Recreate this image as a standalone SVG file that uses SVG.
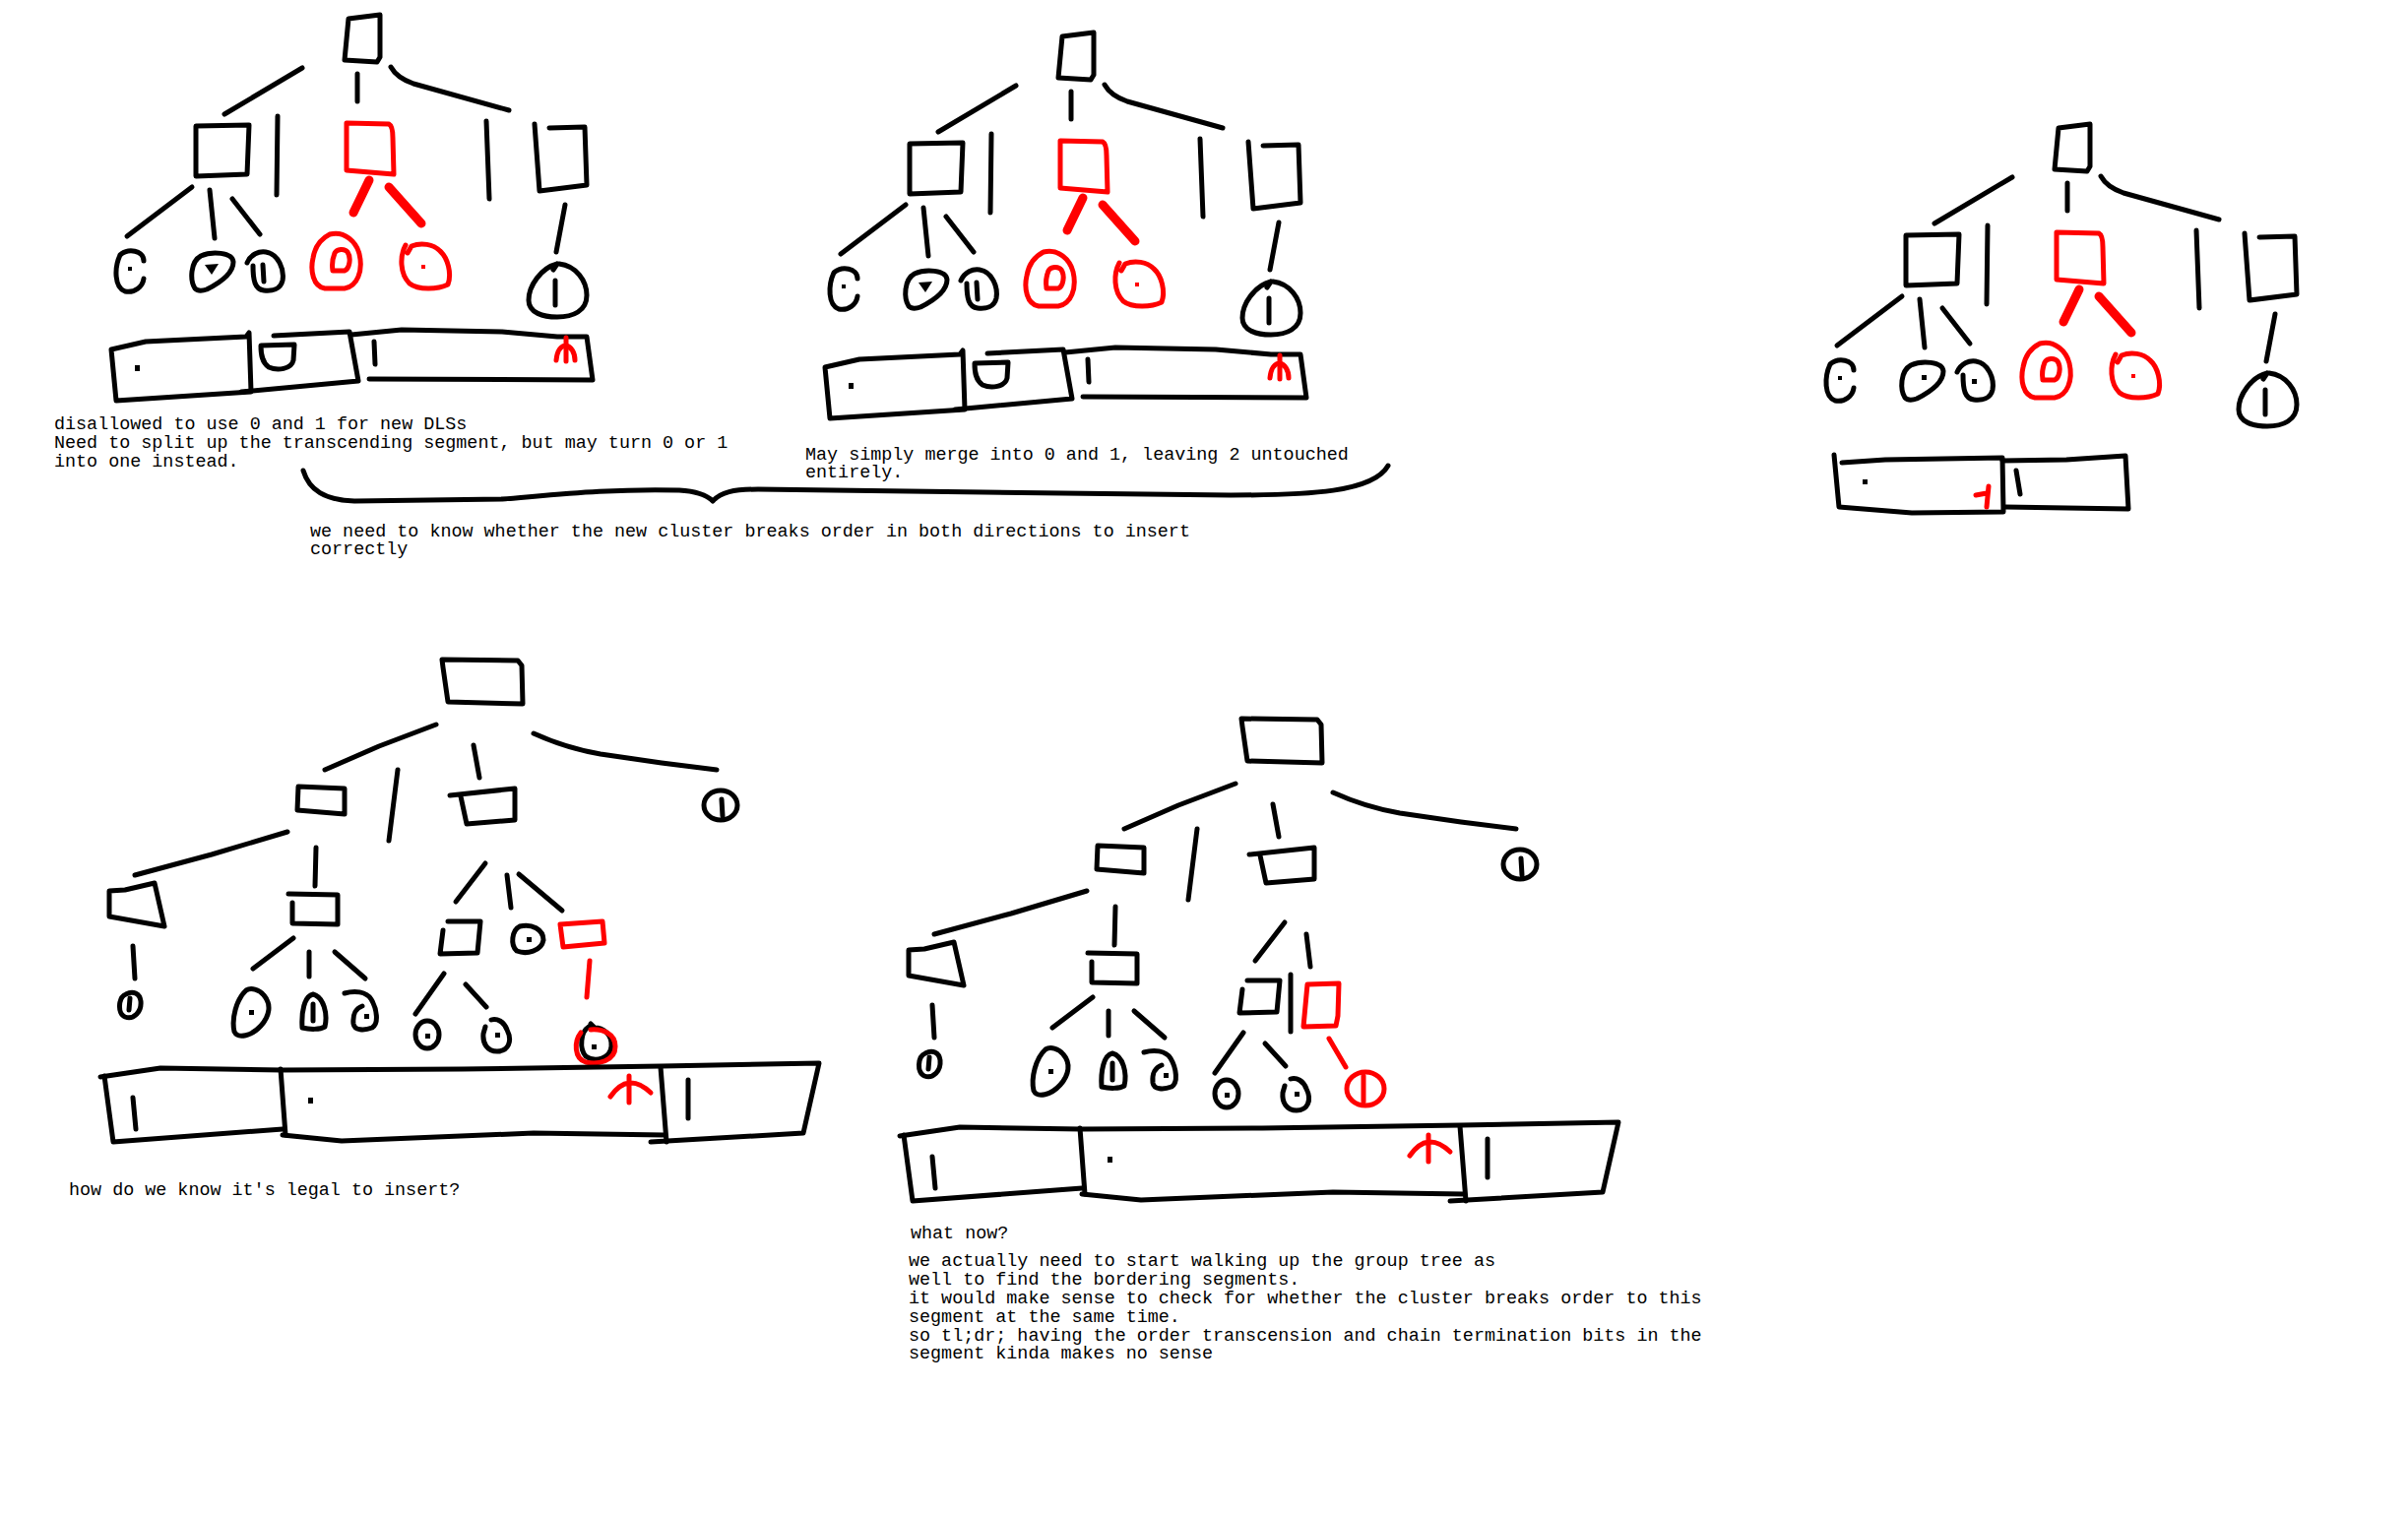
<svg xmlns="http://www.w3.org/2000/svg" width="2446" height="1539" viewBox="0 0 2446 1539">
<style>
.k{fill:none;stroke:#000;stroke-width:5;stroke-linecap:round;stroke-linejoin:round}
.r{fill:none;stroke:#f00;stroke-width:5;stroke-linecap:round;stroke-linejoin:round}
.rt{fill:none;stroke:#f00;stroke-width:9;stroke-linecap:round}
.d{fill:#000}
.rd{fill:#f00}
text{font-family:"Liberation Mono","DejaVu Sans Mono",monospace;font-size:18.4px;fill:#000}
</style>
<rect width="2446" height="1539" fill="#fff"/>

<!-- Panel 1 -->
<g id="p1">
 <g id="p1-connectors">
  <path class="k" d="M228,116 L307,69"/>
  <path class="k" d="M363,75 L363,103"/>
  <path class="k" d="M397,68 Q403,79 420,85 L517,112"/>
  <path class="k" d="M282,118 L281,198"/>
  <path class="k" d="M494,123 L497,202"/>
  <path class="k" d="M195,190 L129,240"/>
  <path class="k" d="M213,193 L218,242"/>
  <path class="k" d="M236,202 L264,238"/>
  <path class="k" d="M574,208 L565,256"/>
  <path class="rt" d="M375,183 L359,216"/>
  <path class="rt" d="M395,190 L428,227"/>
 </g>
 <g id="p1-root"><path class="k" d="M354,19 L386,15 L386,58 L383,63 L350,61 Z"/></g>
 <g id="p1-box-a"><path class="k" d="M199,128 L253,127 L251,177 L199,179 Z"/></g>
 <g id="p1-box-red"><path class="r" d="M352,125 L395,126 Q399,128 399,140 L400,177 L352,173 Z"/></g>
 <g id="p1-box-c"><path class="k" d="M543,126 L548,194 L596,188 L594,129 L558,130"/></g>
 <g id="p1-leaf-1"><path class="k" d="M122,259 C130,252 146,254 146,265 M122,259 C116,272 116,292 127,296 C137,298 145,291 146,283"/><rect class="d" x="130" y="271" width="4" height="4"/></g>
 <g id="p1-leaf-2"><path class="k" d="M198,293 C193,285 193,266 204,260 C215,255 236,256 237,266 C237,278 222,288 210,294 C204,296 200,295 198,293 Z"/><path class="d" d="M208,269 L222,268 L215,279 Z"/></g>
 <g id="p1-leaf-3"><path class="k" d="M251,267 C255,258 263,255 270,256 C283,258 289,274 287,285 C285,294 276,296 268,295 C259,294 257,285 257,270"/><path class="k" d="M267,269 L268,286"/></g>
 <g id="p1-leaf-red-0"><path class="r" d="M335,238 C350,234 362,246 365,258 C369,275 363,291 350,293 L330,293 C318,291 315,275 318,262 C320,250 327,242 335,238"/><path class="r" d="M340,257 C342,253 350,252 353,256 C357,262 355,273 350,275 L338,275 C337,269 338,262 340,257 Z"/></g>
 <g id="p1-leaf-red-1"><path class="r" d="M412,249 C406,260 406,278 416,288 C425,295 445,294 455,289 C459,278 455,262 447,255 C440,248 428,246 418,250 L414,257"/><rect class="rd" x="428" y="269" width="4" height="4"/></g>
 <g id="p1-leaf-4"><path class="k" d="M566,268 C550,272 537,290 537,305 C537,318 552,322 566,322 C582,322 596,316 596,300 C596,285 585,270 568,268 M566,268 L562,274"/><path class="k" d="M564,285 L564,310"/></g>
 <g id="p1-segments">
  <path class="k" d="M113,355 L148,347 L250,342 L253,338 L255,398 L118,407 Z"/>
  <path class="k" d="M278,341 L355,337 L364,387 L245,398"/>
  <path class="k" d="M357,340 L408,335 L510,337 L566,342 L596,342 L602,386 L375,385"/>
  <rect class="d" x="137" y="371" width="5" height="6"/>
  <path class="k" d="M265,351 L299,350 L298,366 C296,375 282,377 273,373 C266,368 265,360 265,351 Z"/>
  <path class="k" d="M380,347 L381,370"/>
  <path class="r" d="M575,343 L575,367 M565,366 C566,356 570,351 575,351 C580,352 584,358 584,366"/>
 </g>
</g>

<!-- Panel 2 -->
<g id="p2" transform="translate(725,18)">
 <g id="p2-connectors">
  <path class="k" d="M228,116 L307,69"/>
  <path class="k" d="M363,75 L363,103"/>
  <path class="k" d="M397,68 Q403,79 420,85 L517,112"/>
  <path class="k" d="M282,118 L281,198"/>
  <path class="k" d="M494,123 L497,202"/>
  <path class="k" d="M195,190 L129,240"/>
  <path class="k" d="M213,193 L218,242"/>
  <path class="k" d="M236,202 L264,238"/>
  <path class="k" d="M574,208 L565,256"/>
  <path class="rt" d="M375,183 L359,216"/>
  <path class="rt" d="M395,190 L428,227"/>
 </g>
 <g id="p2-root"><path class="k" d="M354,19 L386,15 L386,58 L383,63 L350,61 Z"/></g>
 <g id="p2-box-a"><path class="k" d="M199,128 L253,127 L251,177 L199,179 Z"/></g>
 <g id="p2-box-red"><path class="r" d="M352,125 L395,126 Q399,128 399,140 L400,177 L352,173 Z"/></g>
 <g id="p2-box-c"><path class="k" d="M543,126 L548,194 L596,188 L594,129 L558,130"/></g>
 <g id="p2-leaf-1"><path class="k" d="M122,259 C130,252 146,254 146,265 M122,259 C116,272 116,292 127,296 C137,298 145,291 146,283"/><rect class="d" x="130" y="271" width="4" height="4"/></g>
 <g id="p2-leaf-2"><path class="k" d="M198,293 C193,285 193,266 204,260 C215,255 236,256 237,266 C237,278 222,288 210,294 C204,296 200,295 198,293 Z"/><path class="d" d="M208,269 L222,268 L215,279 Z"/></g>
 <g id="p2-leaf-3"><path class="k" d="M251,267 C255,258 263,255 270,256 C283,258 289,274 287,285 C285,294 276,296 268,295 C259,294 257,285 257,270"/><path class="k" d="M267,269 L268,286"/></g>
 <g id="p2-leaf-red-0"><path class="r" d="M335,238 C350,234 362,246 365,258 C369,275 363,291 350,293 L330,293 C318,291 315,275 318,262 C320,250 327,242 335,238"/><path class="r" d="M340,257 C342,253 350,252 353,256 C357,262 355,273 350,275 L338,275 C337,269 338,262 340,257 Z"/></g>
 <g id="p2-leaf-red-1"><path class="r" d="M412,249 C406,260 406,278 416,288 C425,295 445,294 455,289 C459,278 455,262 447,255 C440,248 428,246 418,250 L414,257"/><rect class="rd" x="428" y="269" width="4" height="4"/></g>
 <g id="p2-leaf-4"><path class="k" d="M566,268 C550,272 537,290 537,305 C537,318 552,322 566,322 C582,322 596,316 596,300 C596,285 585,270 568,268 M566,268 L562,274"/><path class="k" d="M564,285 L564,310"/></g>
 <g id="p2-segments">
  <path class="k" d="M113,355 L148,347 L250,342 L253,338 L255,398 L118,407 Z"/>
  <path class="k" d="M278,341 L355,337 L364,387 L245,398"/>
  <path class="k" d="M357,340 L408,335 L510,337 L566,342 L596,342 L602,386 L375,385"/>
  <rect class="d" x="137" y="371" width="5" height="6"/>
  <path class="k" d="M265,351 L299,350 L298,366 C296,375 282,377 273,373 C266,368 265,360 265,351 Z"/>
  <path class="k" d="M380,347 L381,370"/>
  <path class="r" d="M575,343 L575,367 M565,366 C566,356 570,351 575,351 C580,352 584,358 584,366"/>
 </g>
</g>

<!-- Panel 3 -->
<g id="p3" transform="translate(1737,111)">
 <g id="p3-connectors">
  <path class="k" d="M228,116 L307,69"/>
  <path class="k" d="M363,75 L363,103"/>
  <path class="k" d="M397,68 Q403,79 420,85 L517,112"/>
  <path class="k" d="M282,118 L281,198"/>
  <path class="k" d="M494,123 L497,202"/>
  <path class="k" d="M195,190 L129,240"/>
  <path class="k" d="M213,193 L218,242"/>
  <path class="k" d="M236,202 L264,238"/>
  <path class="k" d="M574,208 L565,256"/>
  <path class="rt" d="M375,183 L359,216"/>
  <path class="rt" d="M395,190 L428,227"/>
 </g>
 <g id="p3-root"><path class="k" d="M354,19 L386,15 L386,58 L383,63 L350,61 Z"/></g>
 <g id="p3-box-a"><path class="k" d="M199,128 L253,127 L251,177 L199,179 Z"/></g>
 <g id="p3-box-red"><path class="r" d="M352,125 L395,126 Q399,128 399,140 L400,177 L352,173 Z"/></g>
 <g id="p3-box-c"><path class="k" d="M543,126 L548,194 L596,188 L594,129 L558,130"/></g>
 <g id="p3-leaf-1"><path class="k" d="M122,259 C130,252 146,254 146,265 M122,259 C116,272 116,292 127,296 C137,298 145,291 146,283"/><rect class="d" x="130" y="271" width="4" height="4"/></g>
 <g id="p3-leaf-2"><path class="k" d="M198,293 C193,285 193,266 204,260 C215,255 236,256 237,266 C237,278 222,288 210,294 C204,296 200,295 198,293 Z"/><rect class="d" x="215" y="270" width="5" height="5"/></g>
 <g id="p3-leaf-3"><path class="k" d="M251,267 C255,258 263,255 270,256 C283,258 289,274 287,285 C285,294 276,296 268,295 C259,294 257,285 257,270"/><rect class="d" x="266" y="274" width="5" height="5"/></g>
 <g id="p3-leaf-red-0"><path class="r" d="M335,238 C350,234 362,246 365,258 C369,275 363,291 350,293 L330,293 C318,291 315,275 318,262 C320,250 327,242 335,238"/><path class="r" d="M340,257 C342,253 350,252 353,256 C357,262 355,273 350,275 L338,275 C337,269 338,262 340,257 Z"/></g>
 <g id="p3-leaf-red-1"><path class="r" d="M412,249 C406,260 406,278 416,288 C425,295 445,294 455,289 C459,278 455,262 447,255 C440,248 428,246 418,250 L414,257"/><rect class="rd" x="428" y="269" width="4" height="4"/></g>
 <g id="p3-leaf-4"><path class="k" d="M566,268 C550,272 537,290 537,305 C537,318 552,322 566,322 C582,322 596,316 596,300 C596,285 585,270 568,268 M566,268 L562,274"/><path class="k" d="M564,285 L564,310"/></g>
</g>
<g id="p3-segments">
 <path class="k" d="M1863,462 L1868,515 L1942,521 L2035,520 L2034,465 L1915,467 L1871,470"/>
 <path class="k" d="M2034,468 L2099,467 L2159,463 L2162,517 L2037,515"/>
 <rect class="d" x="1892" y="487" width="5" height="5"/>
 <path class="k" d="M2048,478 L2052,502"/>
 <path class="r" d="M2007,503 L2018,501 M2020,494 L2018,515"/>
</g>

<!-- Brace -->
<g id="brace"><path class="k" d="M308,478 C314,498 330,508 360,509 L510,507 C560,503 620,496 690,498 C708,499 718,503 724,509 C732,500 745,497 770,497 L1000,500 L1250,503 C1330,503 1395,500 1410,473"/></g>

<!-- Panel 4 -->
<g id="p4">
 <g id="p4-connectors">
  <path class="k" d="M330,782 L385,758 L443,736"/>
  <path class="k" d="M481,757 L487,790"/>
  <path class="k" d="M542,745 Q575,760 610,766 L672,775 L728,782"/>
  <path class="k" d="M404,782 L395,854"/>
  <path class="k" d="M292,845 L215,868 L137,889"/>
  <path class="k" d="M321,861 L320,900"/>
  <path class="k" d="M135,961 L137,994"/>
  <path class="k" d="M298,953 L257,984"/>
  <path class="k" d="M314,967 L314,992"/>
  <path class="k" d="M340,967 L371,994"/>
  <path class="k" d="M493,877 L463,916"/>
  <path class="k" d="M515,889 L519,922"/>
  <path class="k" d="M527,888 L571,925"/>
  <path class="k" d="M451,989 L422,1030"/>
  <path class="k" d="M473,1000 L494,1023"/>
  <path class="r" d="M599,976 L596,1013"/>
 </g>
 <g id="p4-root"><path class="k" d="M449,670 L526,671 L530,676 L531,715 L455,713 L450,678 Z"/></g>
 <g id="p4-box-a"><path class="k" d="M303,799 L350,801 L350,827 L302,823 Z"/></g>
 <g id="p4-box-b"><path class="k" d="M457,808 L523,801 L523,833 L474,837 L468,809"/></g>
 <g id="p4-leaf-r"><ellipse class="k" cx="732" cy="818" rx="17" ry="15"/><path class="k" d="M733,812 L734,829"/></g>
 <g id="p4-box-c"><path class="k" d="M111,912 L111,905 L127,904 L157,897 L167,941 L111,931 Z"/></g>
 <g id="p4-box-d"><path class="k" d="M293,908 L343,909 L343,939 L297,938 L297,917"/></g>
 <g id="p4-leaf-c"><path class="k" d="M128,1010 C120,1013 119,1030 127,1033 C136,1036 144,1028 143,1017 C142,1009 135,1006 128,1010 Z"/><path class="k" d="M132,1014 L131,1026"/></g>
 <g id="p4-leaf-d1"><path class="k" d="M250,1006 C240,1015 235,1035 238,1048 C242,1056 256,1052 265,1042 C274,1032 276,1020 268,1011 C263,1005 255,1003 250,1006 Z"/><rect class="d" x="253" y="1026" width="5" height="5"/></g>
 <g id="p4-leaf-d2"><path class="k" d="M318,1010 C309,1012 306,1028 307,1044 C315,1046 325,1046 330,1043 C333,1030 329,1013 318,1010 Z"/><path class="k" d="M318,1020 L318,1037"/></g>
 <g id="p4-leaf-d3"><path class="k" d="M350,1009 C360,1006 372,1007 377,1015 C383,1025 385,1040 378,1044 C370,1047 360,1047 359,1040 C358,1030 362,1024 368,1022"/><rect class="d" x="370" y="1030" width="5" height="5"/></g>
 <g id="p4-box-e"><path class="k" d="M455,936 L488,936 L485,968 L447,969 L450,945"/></g>
 <g id="p4-leaf-e1"><ellipse class="k" cx="434" cy="1051" rx="12" ry="14"/><rect class="d" x="432" y="1050" width="5" height="5"/></g>
 <g id="p4-leaf-e2"><path class="k" d="M499,1036 C505,1034 512,1038 515,1046 C521,1058 516,1068 505,1068 C495,1068 490,1060 491,1050 L493,1043"/><rect class="d" x="503" y="1049" width="5" height="5"/></g>
 <g id="p4-leaf-b2"><path class="k" d="M528,941 C520,945 518,960 525,966 C535,970 550,966 552,955 C552,944 540,938 528,941 Z"/><rect class="d" x="535" y="952" width="5" height="5"/></g>
 <g id="p4-box-red"><path class="r" d="M569,939 L612,936 L614,958 L572,962 Z"/></g>
 <g id="p4-leaf-red"><path class="k" d="M598,1043 C590,1048 588,1065 595,1073 C605,1080 620,1075 621,1063 C622,1050 612,1044 604,1044 L600,1040"/><rect class="d" x="601" y="1061" width="5" height="5"/><path class="r" d="M590,1049 C583,1058 583,1075 595,1079 C607,1082 625,1078 625,1063 C625,1050 612,1045 600,1046"/></g>
 <g id="p4-segments">
  <path class="k" d="M102,1094 L163,1085 L286,1087 L470,1086 L672,1083 L832,1080 L816,1151 L661,1160"/>
  <path class="k" d="M106,1093 L115,1160 L287,1147"/>
  <path class="k" d="M287,1153 L347,1159 L542,1151 L675,1153"/>
  <path class="k" d="M285,1086 L290,1153"/>
  <path class="k" d="M671,1084 L677,1160"/>
  <path class="k" d="M135,1115 L138,1147"/>
  <rect class="d" x="313" y="1115" width="5" height="6"/>
  <path class="k" d="M699,1097 L699,1136"/>
  <path class="r" d="M620,1114 Q638,1088 661,1110 M639,1093 L639,1120"/>
 </g>
</g>

<!-- Panel 5 -->
<g id="p5" transform="translate(812,60)">
 <g id="p5-connectors">
  <path class="k" d="M330,782 L385,758 L443,736"/>
  <path class="k" d="M481,757 L487,790"/>
  <path class="k" d="M542,745 Q575,760 610,766 L672,775 L728,782"/>
  <path class="k" d="M404,782 L395,854"/>
  <path class="k" d="M292,845 L215,868 L137,889"/>
  <path class="k" d="M321,861 L320,900"/>
  <path class="k" d="M135,961 L137,994"/>
  <path class="k" d="M298,953 L257,984"/>
  <path class="k" d="M314,967 L314,992"/>
  <path class="k" d="M340,967 L371,994"/>
  <path class="k" d="M493,877 L463,916"/>
  <path class="k" d="M515,889 L519,922"/>
  <path class="k" d="M451,989 L422,1030"/>
  <path class="k" d="M473,1000 L494,1023"/>
  <path class="k" d="M499,930 L499,988"/>
  <path class="r" d="M538,995 L555,1024"/>
 </g>
 <g id="p5-root"><path class="k" d="M449,670 L526,671 L530,676 L531,715 L455,713 L450,678 Z"/></g>
 <g id="p5-box-a"><path class="k" d="M303,799 L350,801 L350,827 L302,823 Z"/></g>
 <g id="p5-box-b"><path class="k" d="M457,808 L523,801 L523,833 L474,837 L468,809"/></g>
 <g id="p5-leaf-r"><ellipse class="k" cx="732" cy="818" rx="17" ry="15"/><path class="k" d="M733,812 L734,829"/></g>
 <g id="p5-box-c"><path class="k" d="M111,912 L111,905 L127,904 L157,897 L167,941 L111,931 Z"/></g>
 <g id="p5-box-d"><path class="k" d="M293,908 L343,909 L343,939 L297,938 L297,917"/></g>
 <g id="p5-leaf-c"><path class="k" d="M128,1010 C120,1013 119,1030 127,1033 C136,1036 144,1028 143,1017 C142,1009 135,1006 128,1010 Z"/><path class="k" d="M132,1014 L131,1026"/></g>
 <g id="p5-leaf-d1"><path class="k" d="M250,1006 C240,1015 235,1035 238,1048 C242,1056 256,1052 265,1042 C274,1032 276,1020 268,1011 C263,1005 255,1003 250,1006 Z"/><rect class="d" x="253" y="1026" width="5" height="5"/></g>
 <g id="p5-leaf-d2"><path class="k" d="M318,1010 C309,1012 306,1028 307,1044 C315,1046 325,1046 330,1043 C333,1030 329,1013 318,1010 Z"/><path class="k" d="M318,1020 L318,1037"/></g>
 <g id="p5-leaf-d3"><path class="k" d="M350,1009 C360,1006 372,1007 377,1015 C383,1025 385,1040 378,1044 C370,1047 360,1047 359,1040 C358,1030 362,1024 368,1022"/><rect class="d" x="370" y="1030" width="5" height="5"/></g>
 <g id="p5-box-e"><path class="k" d="M455,936 L488,936 L485,968 L447,969 L450,945"/></g>
 <g id="p5-leaf-e1"><ellipse class="k" cx="434" cy="1051" rx="12" ry="14"/><rect class="d" x="432" y="1050" width="5" height="5"/></g>
 <g id="p5-leaf-e2"><path class="k" d="M499,1036 C505,1034 512,1038 515,1046 C521,1058 516,1068 505,1068 C495,1068 490,1060 491,1050 L493,1043"/><rect class="d" x="503" y="1049" width="5" height="5"/></g>
 <g id="p5-box-red"><path class="r" d="M516,940 L548,939 L547,972 L545,982 L512,983 Z"/></g>
 <g id="p5-leaf-red"><ellipse class="r" cx="575" cy="1046" rx="19" ry="17"/><path class="r" d="M573,1033 L573,1059"/></g>
 <g id="p5-segments">
  <path class="k" d="M102,1094 L163,1085 L286,1087 L470,1086 L672,1083 L832,1080 L816,1151 L661,1160"/>
  <path class="k" d="M106,1093 L115,1160 L287,1147"/>
  <path class="k" d="M287,1153 L347,1159 L542,1151 L675,1153"/>
  <path class="k" d="M285,1086 L290,1153"/>
  <path class="k" d="M671,1084 L677,1160"/>
  <path class="k" d="M135,1115 L138,1147"/>
  <rect class="d" x="313" y="1115" width="5" height="6"/>
  <path class="k" d="M699,1097 L699,1136"/>
  <path class="r" d="M620,1114 Q638,1088 661,1110 M639,1093 L639,1120"/>
 </g>
</g>

<!-- Texts -->
<g id="texts">
 <text x="55" y="436">disallowed to use 0 and 1 for new DLSs</text>
 <text x="55" y="455">Need to split up the transcending segment, but may turn 0 or 1</text>
 <text x="55" y="474">into one instead.</text>
 <text x="818" y="467">May simply merge into 0 and 1, leaving 2 untouched</text>
 <text x="818" y="485">entirely.</text>
 <text x="315" y="545">we need to know whether the new cluster breaks order in both directions to insert</text>
 <text x="315" y="563">correctly</text>
 <text x="70" y="1214">how do we know it's legal to insert?</text>
 <text x="925" y="1258">what now?</text>
 <text x="923" y="1286">we actually need to start walking up the group tree as</text>
 <text x="923" y="1305">well to find the bordering segments.</text>
 <text x="923" y="1324">it would make sense to check for whether the cluster breaks order to this</text>
 <text x="923" y="1343">segment at the same time.</text>
 <text x="923" y="1362">so tl;dr; having the order transcension and chain termination bits in the</text>
 <text x="923" y="1380">segment kinda makes no sense</text>
</g>
</svg>
